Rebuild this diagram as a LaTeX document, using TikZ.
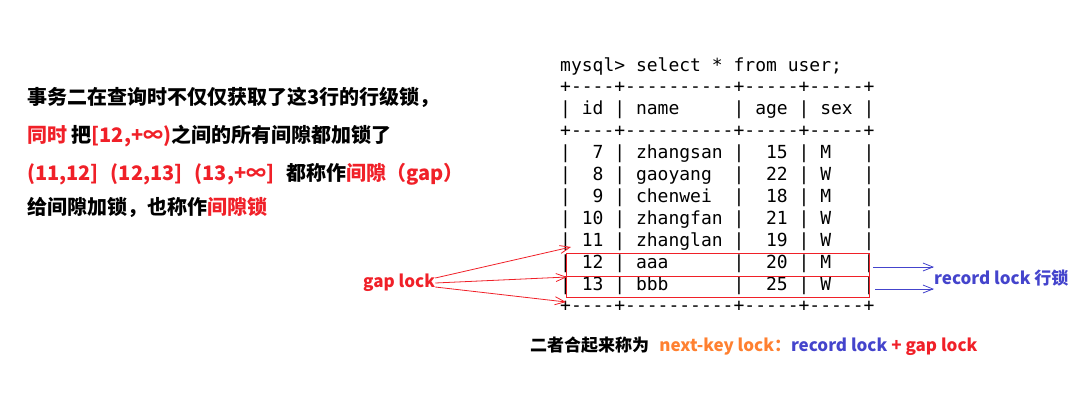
\documentclass[tikz,border=0pt]{standalone}
\usepackage{fontspec}
\setmainfont{Noto Sans CJK SC}
\setmonofont{DejaVu Sans Mono}
\usetikzlibrary{arrows.meta}
\definecolor{gapred}{RGB}{240,32,40}
\definecolor{recblue}{RGB}{68,68,204}
\definecolor{keyorange}{RGB}{255,128,48}

\begin{document}
\begin{tikzpicture}[
  x=1pt, y=-1pt,
  note/.style={anchor=base west, inner sep=0pt, font=\fontsize{20}{24}\selectfont\bfseries},
  tag/.style={inner sep=0pt, font=\fontsize{17}{20}\selectfont\bfseries},
  sqlline/.style={anchor=base west, inner sep=0pt, font=\fontsize{18}{22}\selectfont\ttfamily},
  rowbox/.style={draw=gapred, line width=1pt},
  gaparrow/.style={-{Straight Barb[length=10pt,width=8pt]}, draw=gapred, line width=0.8pt},
  recarrow/.style={-{Straight Barb[length=10pt,width=8pt]}, draw=recblue, line width=0.8pt}
]
\useasboundingbox (0,0) rectangle (1087,410);

% Left: explanation
\node[note] (line1) at (27,104) {事务二在查询时不仅仅获取了这3行的行级锁，};
\node[note] (line2) at (27,142) {{\color{gapred}同时} 把{\color{gapred}[12,+∞)}之间的所有间隙都加锁了};
\node[note] (line3) at (27,180) {{\color{gapred}(11,12]\hspace{0.6em}(12,13]\hspace{0.6em}(13,+∞]}\hspace{0.6em}都称作{\color{gapred}间隙（gap）}};
\node[note] (line4) at (27,214) {给间隙加锁，也称作{\color{gapred}间隙锁}};

% Query result
\node[sqlline] (query) at (560,71) {mysql> select * from user;};
\foreach \row [count=\i] in {
  {+----+----------+-----+-----+},
  {|~id~|~name~~~~~|~age~|~sex~|},
  {+----+----------+-----+-----+},
  {|~~7~|~zhangsan~|~~15~|~M~~~|},
  {|~~8~|~gaoyang~~|~~22~|~W~~~|},
  {|~~9~|~chenwei~~|~~18~|~M~~~|},
  {|~10~|~zhangfan~|~~21~|~W~~~|},
  {|~11~|~zhanglan~|~~19~|~W~~~|},
  {|~12~|~aaa~~~~~~|~~20~|~M~~~|},
  {|~13~|~bbb~~~~~~|~~25~|~W~~~|},
  {+----+----------+-----+-----+}}
  \node[sqlline] (row\i) at (560,71+21.9*\i) {\row};

% Locked rows
\draw[rowbox] (566,253) rectangle (869,276);
\draw[rowbox] (566,276) rectangle (869,297);

% Gap lock
\node[tag, text=gapred, anchor=west] (gaplock) at (363,283) {gap lock};
\coordinate (gap1) at (571,247);
\coordinate (gap2) at (567,277);
\coordinate (gap3) at (566,302);
\draw[gaparrow] ([yshift=5pt]gaplock.east) -- (gap1);
\draw[gaparrow] (gaplock.east) -- (gap2);
\draw[gaparrow] ([yshift=-4pt]gaplock.east) -- (gap3);

% Record lock
\node[tag, text=recblue, anchor=west] (reclock) at (934,278) {record lock 行锁};
\coordinate (rec1) at (873,267);
\coordinate (rec2) at (875,289);
\draw[recarrow] (rec1) -- (rec1 -| reclock.west);
\draw[recarrow] (rec2) -- (rec2 -| reclock.west);

% Summary
\node[tag, anchor=base west] (summary) at (530,351) {二者合起来称为\hspace{0.6em}{\color{keyorange}next-key lock：}{\color{recblue}record lock} {\color{gapred}+ gap lock}};

\end{tikzpicture}
\end{document}
